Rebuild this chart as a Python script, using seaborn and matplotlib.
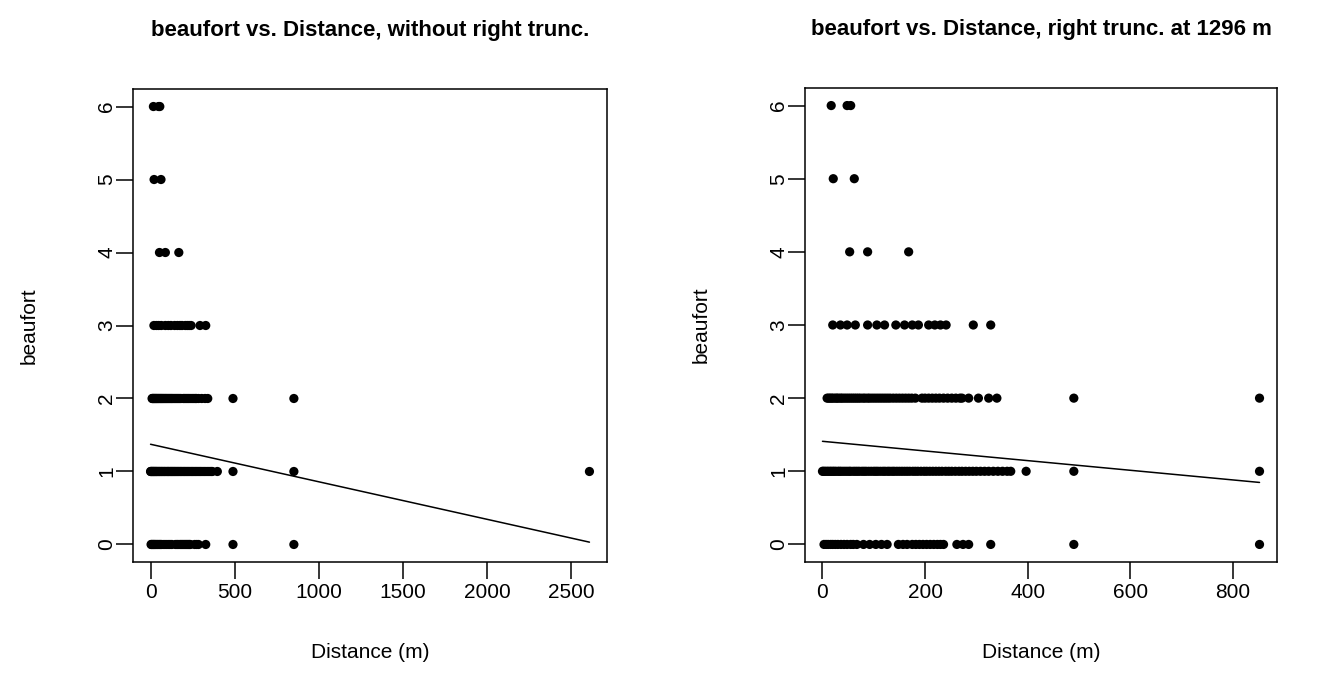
import numpy as np
import pandas as pd
import matplotlib
matplotlib.use("Agg")
import matplotlib.pyplot as plt
import seaborn as sns

# Distances (m) per beaufort level
dist_b0 = [3, 7, 11, 16, 20, 25, 30, 36, 42, 48, 55, 60, 67, 80, 92, 104, 115, 126,
           148, 157, 165, 175, 182, 189, 196, 203, 210, 217, 224, 230, 236,
           262, 274, 285, 328, 490, 852]
dist_b1 = [0, 2, 5, 8, 11, 14, 17, 20, 23, 26, 30, 33, 36, 40, 44, 48, 52, 55, 60, 64,
           68, 72, 77, 81, 85, 90, 95, 100, 104, 108, 113, 118, 122, 127, 131, 136, 140,
           145, 150, 155, 160, 165, 170, 176, 181, 186, 192, 198, 203, 209, 215, 221,
           227, 233, 240, 246, 252, 259, 266, 272, 279, 286, 293, 300, 308, 316, 324,
           333, 342, 351, 360, 367, 397, 490, 852, 2609]
dist_b2 = [9, 12, 15, 18, 21, 25, 28, 31, 35, 38, 42, 46, 50, 54, 58, 62, 66, 70, 74,
           79, 83, 88, 92, 97, 102, 107, 112, 117, 122, 127, 132, 138, 144, 150, 156,
           162, 168, 174, 181, 194, 200, 207, 214, 221, 228, 236, 244, 252, 260, 268,
           272, 285, 304, 324, 340, 490, 852]
dist_b3 = [20, 35, 48, 64, 88, 106, 121, 143, 160, 175, 187, 207, 219, 230, 241, 294, 328]
dist_b4 = [53, 88, 168]
dist_b5 = [21, 62]
dist_b6 = [17, 48, 55]

truncation = 1296

# fitted lines (intercept, slope)
fit_full = (1.373, -0.000514)
fit_trunc = (1.41, -0.00066)

rows = []
for b, dl in enumerate([dist_b0, dist_b1, dist_b2, dist_b3, dist_b4, dist_b5, dist_b6]):
    rows += [(d, b) for d in dl]
df = pd.DataFrame(rows, columns=["distance", "beaufort"])
df_trunc = df[df["distance"] <= truncation]

sns.set_theme(style="ticks")
plt.rcParams["font.family"] = ["Liberation Sans", "DejaVu Sans"]
plt.rcParams.update({"text.color": "black", "axes.labelcolor": "black",
                     "xtick.color": "black", "ytick.color": "black",
                     "axes.edgecolor": "black"})

fig = plt.figure(figsize=(13.32, 6.9), dpi=100)
ax1 = fig.add_axes([133 / 1332, 128 / 690, 474 / 1332, 473 / 690])
ax2 = fig.add_axes([805 / 1332, 128 / 690, 472 / 1332, 474 / 690])


def panel(ax, data, fit, title, xticks):
    sns.scatterplot(data=data, x="distance", y="beaufort", ax=ax, color="black",
                    s=44, edgecolor="none", linewidth=0, legend=False)
    xs = np.array([data["distance"].min(), data["distance"].max()])
    line = pd.DataFrame({"distance": xs, "beaufort": fit[0] + fit[1] * xs})
    sns.lineplot(data=line, x="distance", y="beaufort", ax=ax, color="black",
                 linewidth=1.1)
    lo, hi = xs
    pad = 0.04 * (hi - lo)
    ax.set_xlim(lo - pad, hi + pad)
    ax.set_ylim(-0.24, 6.24)
    ax.set_xticks(xticks)
    ax.set_yticks(range(7))
    ax.set_xlabel("Distance (m)", fontsize=15, labelpad=30, color="black")
    ax.set_ylabel("beaufort", fontsize=15, labelpad=42, color="black")
    ax.set_title(title, fontsize=16, fontweight="bold", pad=38, color="black")
    ax.tick_params(axis="both", direction="out", length=12, width=1.1,
                   labelsize=15, color="black", labelcolor="black")
    ax.tick_params(axis="x", pad=3)
    ax.tick_params(axis="y", pad=0)
    for lbl in ax.get_yticklabels():
        lbl.set_rotation(90)
        lbl.set_va("center")
    for sp in ax.spines.values():
        sp.set_visible(True)
        sp.set_linewidth(1.1)
        sp.set_color("black")


panel(ax1, df, fit_full, "beaufort vs. Distance, without right trunc.",
      [0, 500, 1000, 1500, 2000, 2500])
panel(ax2, df_trunc, fit_trunc,
      f"beaufort vs. Distance, right trunc. at {truncation} m",
      [0, 200, 400, 600, 800])

fig.savefig("out.png", dpi=100, facecolor="white")
